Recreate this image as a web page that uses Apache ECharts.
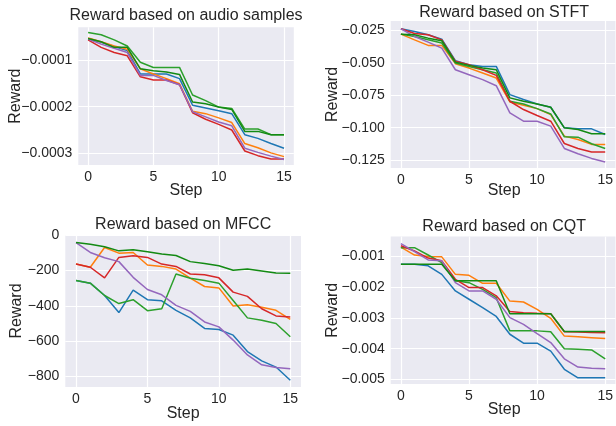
<!DOCTYPE html>
<html>
<head>
<meta charset="utf-8">
<script src="https://cdn.jsdelivr.net/npm/echarts@6/dist/echarts.min.js"></script>
<style>
html,body{margin:0;padding:0;background:#fff;}
#chart{width:616px;height:426px;}
</style>
</head>
<body>
<div id="chart"></div>
<script>
// ---- data ----
const steps = [0,1,2,3,4,5,6,7,8,9,10,11,12,13,14,15];
const xTicks = [0,5,10,15];

// Panel 1: Reward based on audio samples
const audioBlue   = [-0.54e-4,-0.62e-4,-0.71e-4,-0.80e-4,-1.30e-4,-1.30e-4,-1.30e-4,-1.40e-4,-1.97e-4,-2.03e-4,-2.09e-4,-2.15e-4,-2.60e-4,-2.68e-4,-2.79e-4,-2.89e-4];
const audioOrange = [-0.53e-4,-0.61e-4,-0.70e-4,-0.77e-4,-1.19e-4,-1.30e-4,-1.40e-4,-1.51e-4,-2.10e-4,-2.15e-4,-2.24e-4,-2.34e-4,-2.79e-4,-2.88e-4,-2.99e-4,-3.07e-4];
const audioGreen  = [-0.41e-4,-0.46e-4,-0.57e-4,-0.70e-4,-1.05e-4,-1.16e-4,-1.16e-4,-1.16e-4,-1.75e-4,-1.87e-4,-2.01e-4,-2.04e-4,-2.48e-4,-2.48e-4,-2.60e-4,-2.60e-4];
const audioRed    = [-0.57e-4,-0.73e-4,-0.84e-4,-0.91e-4,-1.36e-4,-1.43e-4,-1.43e-4,-1.53e-4,-2.13e-4,-2.27e-4,-2.38e-4,-2.50e-4,-2.95e-4,-3.05e-4,-3.12e-4,-3.12e-4];
const audioPurple = [-0.55e-4,-0.66e-4,-0.75e-4,-0.84e-4,-1.33e-4,-1.33e-4,-1.44e-4,-1.53e-4,-2.11e-4,-2.22e-4,-2.33e-4,-2.41e-4,-2.89e-4,-2.98e-4,-3.06e-4,-3.13e-4];
const audioDkGreen= [-0.54e-4,-0.61e-4,-0.73e-4,-0.73e-4,-1.19e-4,-1.23e-4,-1.26e-4,-1.31e-4,-1.90e-4,-1.94e-4,-2.01e-4,-2.06e-4,-2.53e-4,-2.53e-4,-2.60e-4,-2.60e-4];
const audioYTicks = [-0.0001,-0.0002,-0.0003];
const audioYLabels = ['\u22120.0001','\u22120.0002','\u22120.0003'];

// Panel 2: Reward based on STFT
const stftBlue   = [-0.0237,-0.0258,-0.0283,-0.0317,-0.0483,-0.0514,-0.0527,-0.0527,-0.0745,-0.0783,-0.0817,-0.0842,-0.1001,-0.1009,-0.1009,-0.1053];
const stftOrange = [-0.0278,-0.0322,-0.0365,-0.0365,-0.0506,-0.0540,-0.0578,-0.0617,-0.0801,-0.0827,-0.0853,-0.0899,-0.1065,-0.1091,-0.1129,-0.1129];
const stftGreen  = [-0.0278,-0.0296,-0.0322,-0.0347,-0.0501,-0.0527,-0.0553,-0.0578,-0.0796,-0.0817,-0.0853,-0.0894,-0.1070,-0.1073,-0.1124,-0.1160];
const stftRed    = [-0.0237,-0.0273,-0.0283,-0.0322,-0.0488,-0.0514,-0.0553,-0.0596,-0.0796,-0.0860,-0.0906,-0.0950,-0.1122,-0.1160,-0.1188,-0.1188];
const stftPurple = [-0.0237,-0.0296,-0.0340,-0.0386,-0.0553,-0.0591,-0.0629,-0.0676,-0.0886,-0.0950,-0.0950,-0.0988,-0.1160,-0.1201,-0.1237,-0.1265];
const stftDkGreen= [-0.0278,-0.0283,-0.0309,-0.0329,-0.0494,-0.0519,-0.0540,-0.0553,-0.0770,-0.0796,-0.0817,-0.0842,-0.1001,-0.1014,-0.1047,-0.1047];
const stftYTicks = [-0.025,-0.05,-0.075,-0.1,-0.125];
const stftYLabels = ['\u22120.025','\u22120.050','\u22120.075','\u22120.100','\u22120.125'];

// Panel 3: Reward based on MFCC
const mfccBlue   = [-256,-271,-341,-438,-311,-365,-371,-425,-468,-528,-534,-566,-659,-712,-747,-822];
const mfccOrange = [-163,-181,-69,-101,-97,-168,-176,-191,-243,-290,-298,-401,-393,-408,-425,-476];
const mfccGreen  = [-256,-271,-341,-387,-365,-427,-416,-219,-243,-256,-271,-369,-468,-481,-500,-575];
const mfccRed    = [-163,-181,-241,-125,-116,-125,-163,-176,-219,-224,-241,-322,-346,-416,-457,-463];
const mfccPurple = [-41,-97,-127,-149,-238,-307,-337,-397,-431,-491,-519,-594,-678,-734,-749,-757];
const mfccDkGreen= [-41,-50,-65,-88,-82,-93,-106,-114,-149,-159,-172,-198,-191,-202,-213,-215];
const mfccYTicks = [0,-200,-400,-600,-800];
const mfccYLabels = ['0','\u2212200','\u2212400','\u2212600','\u2212800'];

// Panel 4: Reward based on CQT
const cqtBlue   = [-1.25e-3,-1.25e-3,-1.30e-3,-1.58e-3,-2.12e-3,-2.39e-3,-2.66e-3,-2.95e-3,-3.53e-3,-3.82e-3,-3.82e-3,-4.08e-3,-4.67e-3,-4.95e-3,-4.95e-3,-4.95e-3];
const cqtOrange = [-0.69e-3,-0.95e-3,-1.00e-3,-1.01e-3,-1.58e-3,-1.61e-3,-1.87e-3,-1.87e-3,-2.45e-3,-2.48e-3,-2.72e-3,-3.01e-3,-3.59e-3,-3.61e-3,-3.64e-3,-3.67e-3];
const cqtGreen  = [-0.71e-3,-0.71e-3,-0.95e-3,-1.20e-3,-1.79e-3,-1.85e-3,-2.07e-3,-2.34e-3,-3.42e-3,-3.42e-3,-3.42e-3,-3.45e-3,-4.00e-3,-4.02e-3,-4.04e-3,-4.33e-3];
const cqtRed    = [-0.65e-3,-0.82e-3,-1.05e-3,-1.14e-3,-1.74e-3,-2.01e-3,-2.01e-3,-2.28e-3,-2.79e-3,-2.83e-3,-2.85e-3,-2.86e-3,-3.45e-3,-3.46e-3,-3.47e-3,-3.48e-3];
const cqtPurple = [-0.58e-3,-0.84e-3,-1.11e-3,-1.14e-3,-1.85e-3,-2.12e-3,-2.12e-3,-2.39e-3,-2.99e-3,-3.21e-3,-3.51e-3,-3.80e-3,-4.33e-3,-4.60e-3,-4.64e-3,-4.65e-3];
const cqtDkGreen= [-1.25e-3,-1.25e-3,-1.25e-3,-1.25e-3,-1.79e-3,-1.79e-3,-1.79e-3,-1.79e-3,-2.86e-3,-2.86e-3,-2.86e-3,-2.86e-3,-3.44e-3,-3.44e-3,-3.44e-3,-3.44e-3];
const cqtYTicks = [-0.001,-0.002,-0.003,-0.004,-0.005];
const cqtYLabels = ['\u22120.001','\u22120.002','\u22120.003','\u22120.004','\u22120.005'];

const titles = ['Reward based on audio samples','Reward based on STFT','Reward based on MFCC','Reward based on CQT'];
const xName = 'Step';
const yName = 'Reward';

// ---- styling / layout ----
const colors = ['#1f77b4','#ff7f0e','#2ca02c','#d62728','#9467bd','#138a13'];
const FONT = '"Liberation Sans", Arial, sans-serif';
const TXT = '#262626';
const BG = '#eaeaf2';

const panels = [
  {series:[audioBlue,audioOrange,audioGreen,audioRed,audioPurple,audioDkGreen], yTicks:audioYTicks, yLabels:audioYLabels,
   grid:{left:78.3, top:27.3, width:215.5, height:137.7}, ymin:-3.25e-4, ymax:-0.30e-4,
   titleY:15.5, stepY:191, rewardX:16},
  {series:[stftBlue,stftOrange,stftGreen,stftRed,stftPurple,stftDkGreen], yTicks:stftYTicks, yLabels:stftYLabels,
   grid:{left:390.7, top:21, width:226.9, height:147}, ymin:-0.1311, ymax:-0.01767,
   titleY:12.5, stepY:190.5, rewardX:333},
  {series:[mfccBlue,mfccOrange,mfccGreen,mfccRed,mfccPurple,mfccDkGreen], yTicks:mfccYTicks, yLabels:mfccYLabels,
   grid:{left:65.3, top:235, width:235.7, height:152}, ymin:-860, ymax:2,
   titleY:224.5, stepY:413.5, rewardX:16.5},
  {series:[cqtBlue,cqtOrange,cqtGreen,cqtRed,cqtPurple,cqtDkGreen], yTicks:cqtYTicks, yLabels:cqtYLabels,
   grid:{left:390.7, top:236.6, width:226.9, height:147.4}, ymin:-5.15e-3, ymax:-0.35e-3,
   titleY:227, stepY:410, rewardX:333}
];

const grids = [], xAxes = [], yAxes = [], series = [], graphics = [];
panels.forEach((p, k) => {
  grids.push(Object.assign({show:true, backgroundColor:BG, borderWidth:0, containLabel:false}, p.grid));
  xAxes.push({
    type:'value', gridIndex:k, min:-0.75, max:15.75,
    axisLine:{show:false}, axisTick:{show:false, customValues:xTicks},
    axisLabel:{customValues:xTicks, color:TXT, fontFamily:FONT, fontSize:14, margin:5,
      formatter: v => String(Math.round(v))},
    splitLine:{show:true, lineStyle:{color:'#ffffff', width:1.2}}
  });
  yAxes.push({
    type:'value', gridIndex:k, min:p.ymin, max:p.ymax,
    axisLine:{show:false}, axisTick:{show:false, customValues:p.yTicks},
    axisLabel:{customValues:p.yTicks, color:TXT, fontFamily:FONT, fontSize:14, margin:6,
      formatter: v => {
        let best = 0, bd = Infinity;
        p.yTicks.forEach((t, i) => { const d = Math.abs(t - v); if (d < bd) { bd = d; best = i; } });
        return p.yLabels[best];
      }},
    splitLine:{show:true, lineStyle:{color:'#ffffff', width:1.2}}
  });
  p.series.forEach((vals, j) => {
    series.push({
      type:'line', xAxisIndex:k, yAxisIndex:k, showSymbol:false, symbol:'none', silent:true,
      data: steps.map((s, i) => [s, vals[i]]),
      lineStyle:{color:colors[j], width:1.5}, itemStyle:{color:colors[j]}, animation:false
    });
  });
  const cx = p.grid.left + p.grid.width / 2;
  const cy = p.grid.top + p.grid.height / 2;
  graphics.push({type:'text', x:cx, y:p.titleY, style:{text:titles[k], font:'16px ' + FONT, fill:TXT, textAlign:'center', textVerticalAlign:'middle'}});
  graphics.push({type:'text', x:cx, y:p.stepY, style:{text:xName, font:'16px ' + FONT, fill:TXT, textAlign:'center', textVerticalAlign:'middle'}});
  graphics.push({type:'text', x:p.rewardX, y:cy, rotation:Math.PI/2, style:{text:yName, font:'16px ' + FONT, fill:TXT, textAlign:'center', textVerticalAlign:'middle'}});
});

const chart = echarts.init(document.getElementById('chart'), null, {renderer:'canvas'});
chart.setOption({
  animation:false,
  backgroundColor:'#ffffff',
  grid:grids, xAxis:xAxes, yAxis:yAxes, series:series, graphic:graphics
});
</script>
</body>
</html>
